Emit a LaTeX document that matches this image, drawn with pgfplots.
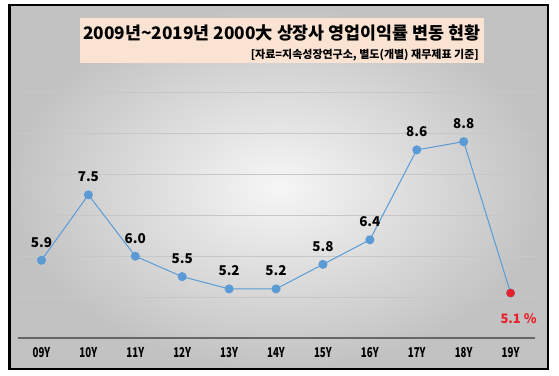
\documentclass[border=0pt]{standalone}
\usepackage{pgfplots}
\pgfplotsset{compat=1.18}
\usepackage{pgfplotstable}
\usepackage{fontspec}
\setmainfont{Noto Sans CJK KR}
\newfontfamily\condfont[FakeStretch=0.72]{Noto Sans CJK KR}
\definecolor{lineblue}{HTML}{5B9BD5}
\definecolor{peach}{HTML}{FBE3D3}
\definecolor{myred}{HTML}{E8202A}
\definecolor{bginner}{HTML}{F6F6F6}
\definecolor{bgouter}{HTML}{C2C2C2}
\pgfplotstableread{
x y lab
0 5.9 5.9
1 7.5 7.5
2 6.0 6.0
3 5.5 5.5
4 5.2 5.2
5 5.2 5.2
6 5.8 5.8
7 6.4 6.4
8 8.6 8.6
9 8.8 8.8
10 5.1 {}
}\datatable
\begin{document}
\begin{tikzpicture}
\path (0pt,0pt) rectangle (559pt,375pt);
\shade[inner color=bginner, outer color=bgouter] (9.5pt,6pt) rectangle (548pt,370pt);
\fill[peach] (80pt,312pt) rectangle (484pt,357pt);
\node[font=\fontsize{17.3}{19}\selectfont\bfseries, inner sep=0pt] at (281.5pt,342pt) {2009년\textasciitilde 2019년 2000大 상장사 영업이익률 변동 현황};
\node[anchor=east, font=\fontsize{11}{12}\selectfont\bfseries, inner sep=0pt] at (479pt,320pt) {[자료=지속성장연구소, 별도(개별) 재무제표 기준]};
\begin{axis}[
  at={(18pt,37pt)}, anchor=south west,
  scale only axis, width=517pt, height=257.7pt,
  xmin=-0.5, xmax=10.52, ymin=4, ymax=10.3,
  axis x line*=bottom, axis y line*=left,
  y axis line style={draw=none},
  x axis line style={draw=black!60, line width=1.2pt, -},
  xtick={0,...,10},
  xticklabels={09Y,10Y,11Y,12Y,13Y,14Y,15Y,16Y,17Y,18Y,19Y},
  xticklabel style={font=\condfont\fontsize{13.5}{14}\selectfont\bfseries, yshift=-6pt},
  ytick={5,...,10}, yticklabels={},
  ymajorgrids, grid style={draw=black!22, line width=0.8pt},
  major tick length=0pt,
  clip=false,
]
\addplot[color=lineblue, line width=1pt, mark=*, mark size=4pt,
  mark options={fill=lineblue, draw=lineblue},
  point meta=explicit symbolic, nodes near coords,
  every node near coord/.append style={anchor=center, yshift=18pt, font=\fontsize{13.5}{14}\selectfont\bfseries, text=black}]
  table[x=x, y=y, meta=lab] {\datatable};
\addplot[only marks, mark=*, mark size=4pt, color=myred, mark options={fill=myred, draw=myred},
  nodes near coords={5.1 \%},
  every node near coord/.append style={anchor=center, xshift=8pt, yshift=-26pt, font=\fontsize{13}{14}\selectfont\bfseries, text=myred}]
  coordinates {(10,5.1)};
\end{axis}
\draw[black, line width=2.5pt] (9.5pt,6pt) rectangle (548pt,370pt);
\end{tikzpicture}
\end{document}
